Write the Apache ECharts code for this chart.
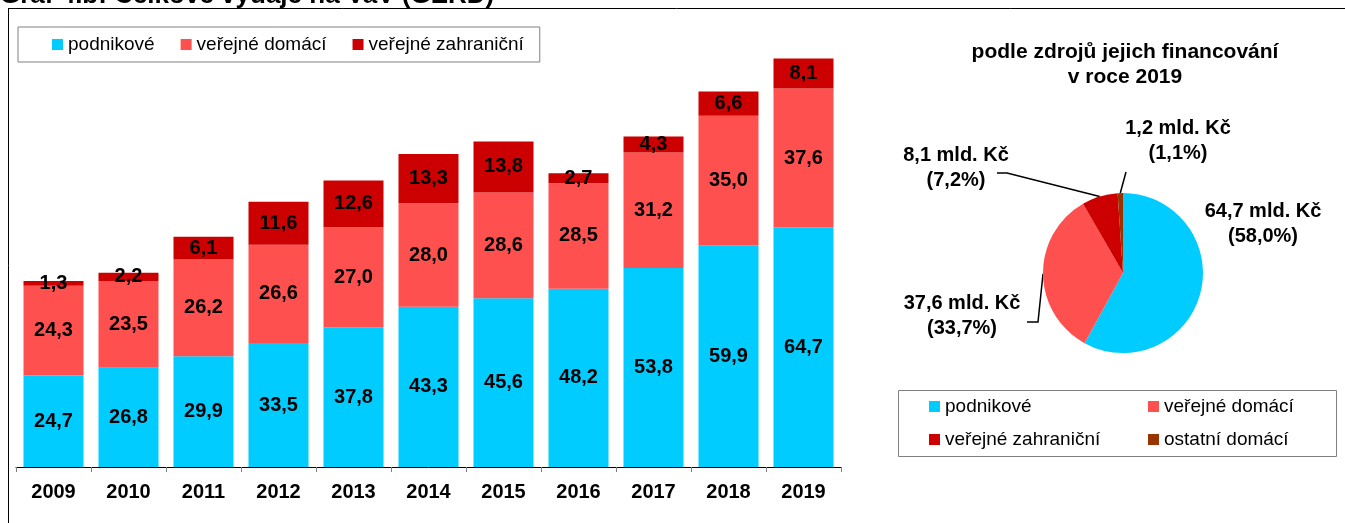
<!DOCTYPE html>
<html>
<head>
<meta charset="utf-8">
<title>GERD</title>
<script src="https://cdn.jsdelivr.net/npm/echarts@6/dist/echarts.min.js"></script>
<style>
  html, body { margin: 0; padding: 0; background: #fff; }
  #chart { width: 1345px; height: 523px; }
</style>
</head>
<body>
<div id="chart"></div>
<script>
// data
var years = ['2009', '2010', '2011', '2012', '2013', '2014', '2015', '2016', '2017', '2018', '2019'];
var podnikove = [24.7, 26.8, 29.9, 33.5, 37.8, 43.3, 45.6, 48.2, 53.8, 59.9, 64.7];
var verejneDomaci = [24.3, 23.5, 26.2, 26.6, 27.0, 28.0, 28.6, 28.5, 31.2, 35.0, 37.6];
var verejneZahranicni = [1.3, 2.2, 6.1, 11.6, 12.6, 13.3, 13.8, 2.7, 4.3, 6.6, 8.1];

var pieNames = ['podnikové', 'veřejné domácí', 'veřejné zahraniční', 'ostatní domácí'];
var pieValues = [64.7, 37.6, 8.1, 1.2];
var pieShare = [58.0, 33.7, 7.2, 1.1];

var colors = ['#00CCFF', '#FF5050', '#CC0000', '#993300'];
var FONT = 'Arial, "Liberation Sans", sans-serif';

function cz(v) {
  return v.toFixed(1).replace('.', ',');
}

// label placement for the pie (label centre + bend points of the leader line)
var pieLabelPos = [
  { x: 1263, y: 224, line: null },
  { x: 962, y: 316, line: [[1038, 322], [1027, 322]] },
  { x: 956, y: 168, line: [[1007, 173], [997, 173]] },
  { x: 1178, y: 141, line: [[1126, 172]] }
];

function barSeries(name, data, color) {
  return {
    name: name,
    type: 'bar',
    stack: 'gerd',
    barWidth: '80%',
    data: data,
    itemStyle: { color: color },
    label: {
      show: true,
      position: 'inside',
      color: '#000',
      fontFamily: FONT,
      fontWeight: 'bold',
      fontSize: 20,
      formatter: function (p) { return cz(p.value); }
    }
  };
}

function legendText() {
  return { fontFamily: FONT, fontSize: 19, color: '#000' };
}

var pieData = pieNames.map(function (n, i) {
  return {
    name: n,
    value: pieValues[i],
    itemStyle: { color: colors[i] },
    labelLine: { show: i !== 0 }
  };
});

var chart = echarts.init(document.getElementById('chart'));

var option = {
  animation: false,
  color: colors,
  title: {
    text: 'podle zdrojů jejich financování\nv roce 2019',
    left: 1120,
    top: 35,
    textAlign: 'center',
    textStyle: {
      fontFamily: FONT,
      fontWeight: 'bold',
      fontSize: 21,
      lineHeight: 25,
      color: '#000'
    }
  },
  legend: [
    {
      left: 18,
      top: 27,
      data: pieNames.slice(0, 3),
      icon: 'rect',
      itemWidth: 11,
      itemHeight: 11,
      itemGap: 26,
      padding: [8, 16, 8, 34],
      borderColor: '#808080',
      borderWidth: 1,
      textStyle: legendText()
    },
    { left: 929, top: 397, data: [pieNames[0]], icon: 'rect', itemWidth: 11, itemHeight: 11, padding: 0, textStyle: legendText() },
    { left: 1148, top: 397, data: [pieNames[1]], icon: 'rect', itemWidth: 11, itemHeight: 11, padding: 0, textStyle: legendText() },
    { left: 929, top: 430, data: [pieNames[2]], icon: 'rect', itemWidth: 11, itemHeight: 11, padding: 0, textStyle: legendText() },
    { left: 1148, top: 430, data: [pieNames[3]], icon: 'rect', itemWidth: 11, itemHeight: 11, padding: 0, textStyle: legendText() }
  ],
  grid: {
    left: 16,
    right: 504,
    top: 23,
    bottom: 56,
    containLabel: false
  },
  xAxis: {
    type: 'category',
    data: years,
    axisLine: { lineStyle: { color: '#000', width: 1 } },
    axisTick: { show: true, length: 5, lineStyle: { color: '#808080' } },
    axisLabel: {
      margin: 15,
      color: '#000',
      fontFamily: FONT,
      fontWeight: 'bold',
      fontSize: 20
    }
  },
  yAxis: {
    type: 'value',
    min: 0,
    max: 120,
    show: false,
    splitLine: { show: false }
  },
  series: [
    barSeries(pieNames[0], podnikove, colors[0]),
    barSeries(pieNames[1], verejneDomaci, colors[1]),
    barSeries(pieNames[2], verejneZahranicni, colors[2]),
    {
      name: 'zdroje 2019',
      type: 'pie',
      center: [1123, 273],
      radius: 80,
      startAngle: 90,
      clockwise: true,
      data: pieData,
      label: {
        show: true,
        position: 'outside',
        color: '#000',
        fontFamily: FONT,
        fontWeight: 'bold',
        fontSize: 20,
        lineHeight: 25,
        width: 160,
        overflow: 'none',
        align: 'center',
        formatter: function (p) {
          return cz(pieValues[p.dataIndex]) + ' mld. Kč\n(' + cz(pieShare[p.dataIndex]) + '%)';
        }
      },
      labelLine: {
        show: true,
        lineStyle: { color: '#000', width: 1.5 }
      },
      labelLayout: function (p) {
        var pos = pieLabelPos[p.dataIndex];
        var out = { x: pos.x, y: pos.y, align: 'center', verticalAlign: 'middle' };
        if (pos.line && p.labelLinePoints && p.labelLinePoints.length) {
          out.labelLinePoints = [p.labelLinePoints[0]].concat(pos.line);
        }
        return out;
      }
    }
  ],
  graphic: [
    {
      type: 'text',
      left: 0,
      top: -17,
      style: {
        text: 'Graf 4.b: Celkové výdaje na VaV (GERD)',
        fontFamily: FONT,
        fontWeight: 'bold',
        fontSize: 26,
        fill: '#000'
      }
    },
    {
      type: 'line',
      shape: { x1: 8, y1: 8.5, x2: 1345, y2: 8.5 },
      style: { stroke: '#000', lineWidth: 1 }
    },
    {
      type: 'line',
      shape: { x1: 8.5, y1: 8, x2: 8.5, y2: 523 },
      style: { stroke: '#000', lineWidth: 1 }
    },
    {
      type: 'rect',
      shape: { x: 898.5, y: 390.5, width: 438, height: 66 },
      style: { fill: 'none', stroke: '#808080', lineWidth: 1 },
      z: -1
    }
  ]
};

chart.setOption(option);
</script>
</body>
</html>
